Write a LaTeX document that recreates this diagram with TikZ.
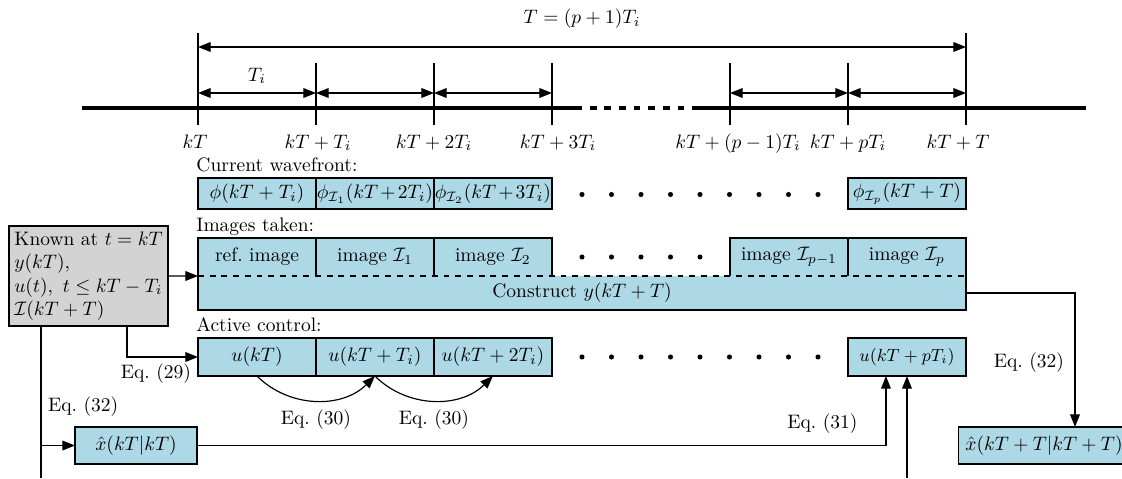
\documentclass[tikz,border=0pt]{standalone}
\usepackage{amsmath,amssymb}
\usetikzlibrary{arrows.meta,positioning,calc}
\definecolor{cellblue}{HTML}{ADD8E6}
\definecolor{knowngray}{HTML}{D3D3D3}

\begin{document}
\begin{tikzpicture}[
  x=0.513pt, y=-0.513pt,
  cell/.style={draw=black,line width=0.8pt,fill=cellblue,inner sep=1pt,outer sep=0pt,minimum width=60.5pt,minimum height=19.5pt},
  wfcell/.style={cell,minimum height=15.9pt,inner xsep=0pt,text width=60.5pt,align=center},
  tightmath/.style={execute at begin node={\medmuskip=2mu plus 1mu minus 2mu}},
  imgcell/.style={cell,draw=none},
  border/.style={line width=0.8pt},
  known/.style={draw=black,line width=0.8pt,fill=knowngray,align=left,inner sep=2pt,outer sep=0pt,minimum width=81.6pt,minimum height=51.3pt},
  seclabel/.style={anchor=base west,inner xsep=0pt},
  arrow/.style={-{Triangle[length=6.5pt,width=5pt]},line width=0.6pt},
  dim/.style={{Triangle[length=6.5pt,width=5pt]}-{Triangle[length=6.5pt,width=5pt]},line width=0.6pt},
  tick/.style={line width=0.6pt}
]
\useasboundingbox (0,0) rectangle (1122,478);

% time axis
\draw[line width=2pt] (82,108) -- (582,108);
\draw[line width=2pt,dash pattern=on 3.5pt off 4pt,dash phase=3.5pt] (582,108) -- (692,108);
\draw[line width=2pt] (692,108) -- (1086,108);
\foreach \x in {198,966} \draw[tick] (\x,33) -- (\x,125);
\foreach \x in {316,434,552,730,848} \draw[tick] (\x,63) -- (\x,125);
\foreach \x/\lab in {195/kT,318/kT+T_i,434/kT+2T_i,558/kT+3T_i,738/kT+(p-1)T_i,848/kT+pT_i,958/kT+T}
  \node[anchor=base] at (\x,148) {$\lab$};

% sampling intervals
\draw[dim] (198,47) -- node[above=6pt]{$T=(p+1)T_i$} (966,47);
\draw[dim] (198,93) -- node[above=1pt]{$T_i$} (316,93);
\foreach \a/\b in {316/434,434/552,730/848,848/966} \draw[dim] (\a,93) -- (\b,93);

% current wavefront
\node[wfcell] (wf0) at (257,193.5) {$\phi(kT+T_i)$};
\node[wfcell,tightmath,right=0pt of wf0] (wf1) {$\phi_{\mathcal{I}_1}(kT+2T_i)$};
\node[wfcell,tightmath,right=0pt of wf1] (wf2) {$\phi_{\mathcal{I}_2}(kT+3T_i)$};
\node[wfcell] (wfp) at (907,193.5) {$\phi_{\mathcal{I}_p}(kT+T)$};
\node[seclabel] at ([shift={(-1pt,3.5pt)}]wf0.north west) {Current wavefront:};
\foreach \i in {0,...,8} \fill (582+29.5*\i,194.5) circle (1.3pt);

% images taken
\node[imgcell] (im0) at (257,257) {ref.\ image};
\node[imgcell,right=0pt of im0] (im1) {image $\mathcal{I}_1$};
\node[imgcell,right=0pt of im1] (im2) {image $\mathcal{I}_2$};
\node[imgcell] (imq) at (789,257) {image $\mathcal{I}_{p-1}$};
\node[imgcell,right=0pt of imq] (imp) {image $\mathcal{I}_p$};
\node[imgcell,anchor=north west,minimum width=394pt,minimum height=17.4pt] (constr) at (im0.south west) {Construct $y(kT+T)$};
\foreach \c in {im0,im1,im2,imq,imp} \draw[border] (\c.south west) |- (\c.north east) -- (\c.south east);
\draw[border] (constr.north west) |- (constr.south east) -- (constr.north east);
\draw[border,dashed] (constr.north west) -- (constr.north east);
\node[seclabel] at ([shift={(-1pt,3.5pt)}]im0.north west) {Images taken:};
\foreach \i in {0,...,4} \fill (582+29.5*\i,257) circle (1.3pt);

% active control
\node[cell] (u0) at (257,357) {$u(kT)$};
\node[cell,right=0pt of u0] (u1) {$u(kT+T_i)$};
\node[cell,right=0pt of u1] (u2) {$u(kT+2T_i)$};
\node[cell,font=\small] (up) at (907,357) {$u(kT+pT_i)$};
\node[seclabel] at ([shift={(-1pt,3.5pt)}]u0.north west) {Active control:};
\foreach \i in {0,...,8} \fill (582+29.5*\i,357) circle (1.3pt);
\draw[arrow] (u0.south) to[bend right=45] node[below=1pt]{Eq.~(30)} (u1.south);
\draw[arrow] (u1.south) to[bend right=45] node[below=1pt]{Eq.~(30)} (u2.south);

% known data and estimates
\node[known] (known) at (88.5,276) {Known at $t=kT$\\$y(kT)$,\\$u(t),\ t\le kT-T_i$\\$\mathcal{I}(kT+T)$};
\node[cell,minimum width=62.6pt,minimum height=19pt] (xk) at (136,445.5) {$\hat{x}(kT|kT)$};
\node[cell,minimum width=0pt,inner xsep=3.6pt,minimum height=19pt] (xT) at (1044,445.5) {$\hat{x}(kT+T|kT+T)$};
\coordinate (busbot) at (41,478);
\coordinate (upin) at (907,478);

\draw[arrow] (known.east) -- (constr.north west);
\draw[arrow] ([xshift=19.75pt]known.south) |- node[pos=1,below left]{Eq.~(29)} (u0.west);
\draw[line width=0.6pt] (known.south -| busbot) -- node[pos=0.53,right]{Eq.~(32)} (busbot);
\draw[arrow] (busbot |- xk.west) -- (xk.west);
\draw[arrow] (xk.east) -| node[pos=0.66,left=11pt]{Eq.~(31)} ([xshift=-10.8pt]up.south);
\draw[arrow] (upin) -- (up.south);
\draw[arrow] (constr.east) -| node[pos=0.76,left=2pt]{Eq.~(32)} ([xshift=15.9pt]xT.north);
\end{tikzpicture}
\end{document}
